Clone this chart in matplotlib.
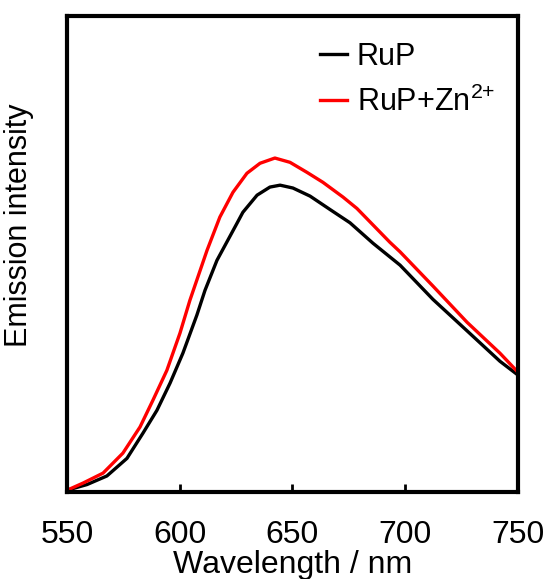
import matplotlib

matplotlib.use("Agg")
import matplotlib.pyplot as plt

plt.rcParams["font.family"] = ["Liberation Sans", "DejaVu Sans"]
plt.rcParams["mathtext.fontset"] = "custom"
plt.rcParams["mathtext.rm"] = "Liberation Sans"

# emission spectra (a.u.)
wl_rup = [550.0, 558.9, 567.7, 576.6, 583.7, 589.9, 595.7, 601.4, 607.6, 611.2, 616.5, 625.4, 628.0,
          634.3, 640.0, 644.5, 650.2, 657.8, 666.6, 675.5, 685.7, 697.7, 712.3, 727.4, 742.0, 750.0]
em_rup = [4, 16, 34, 71, 124, 172, 229, 292, 372, 424, 487, 565, 588,
          624, 641, 645, 639, 622, 594, 566, 523, 477, 405, 339, 275, 246]

wl_zn = [550.0, 557.1, 566.0, 574.8, 582.4, 588.1, 594.3, 600.1, 604.5, 612.1, 617.8, 623.6, 629.8,
         635.6, 642.2, 648.9, 656.4, 663.5, 672.4, 678.6, 693.2, 697.7, 712.3, 727.4, 742.0, 750.0]
em_zn = [4, 19, 40, 82, 137, 193, 256, 334, 403, 508, 578, 630, 670,
         691, 702, 693, 672, 651, 620, 596, 525, 505, 433, 357, 292, 252]

xticks = [550, 600, 650, 700, 750]

fig = plt.figure(figsize=(5.49, 5.79), dpi=100)
ax = fig.add_axes([0.122, 0.150, 0.8215, 0.822])

ax.plot(wl_rup, em_rup, color="black", lw=2.4, label="RuP", solid_joinstyle="round")
ax.plot(wl_zn, em_zn, color="#ff0000", lw=2.4, label=r"RuP+Zn$^{2\text{+}}$", solid_joinstyle="round")

ax.set_xlim(550, 750)
ax.set_ylim(0, 1000)
ax.set_xticks(xticks)
ax.set_yticks([])
ax.tick_params(axis="x", direction="in", length=6, width=2, labelsize=23, pad=20)
for s in ax.spines.values():
    s.set_linewidth(3)

ax.set_xlabel("Wavelength / nm", fontsize=23, labelpad=0)
ax.set_ylabel("Emission intensity", fontsize=22)
ax.yaxis.set_label_coords(-0.073, 0.561)

ax.legend(
    loc="upper left",
    bbox_to_anchor=(0.561, 0.946),
    frameon=False,
    fontsize=22,
    handlelength=0.88,
    handletextpad=0.33,
    labelspacing=0.47,
    borderpad=0,
    borderaxespad=0,
)

fig.savefig("out.png", dpi=100)
